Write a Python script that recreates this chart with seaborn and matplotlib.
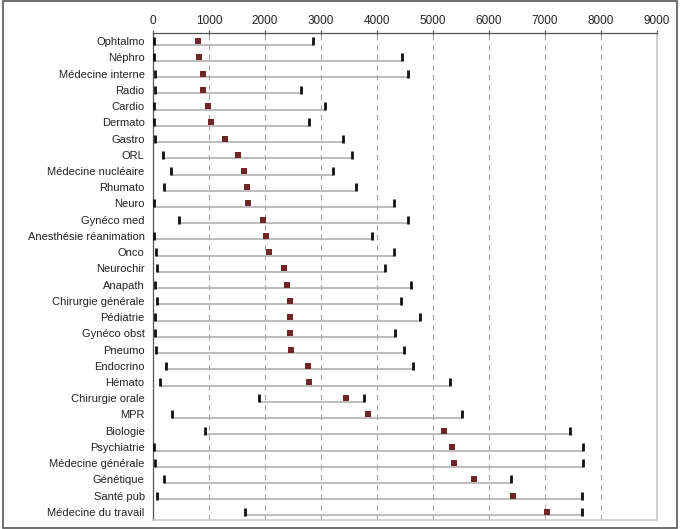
import matplotlib
matplotlib.use('Agg')
import matplotlib.pyplot as plt
import pandas as pd
import seaborn as sns
from matplotlib.ticker import MultipleLocator, FixedLocator

specialites = ['Ophtalmo', 'Néphro', 'Médecine interne', 'Radio', 'Cardio', 'Dermato',
               'Gastro', 'ORL', 'Médecine nucléaire', 'Rhumato', 'Neuro', 'Gynéco med',
               'Anesthésie réanimation', 'Onco', 'Neurochir', 'Anapath',
               'Chirurgie générale', 'Pédiatrie', 'Gynéco obst', 'Pneumo', 'Endocrino',
               'Hémato', 'Chirurgie orale', 'MPR', 'Biologie', 'Psychiatrie',
               'Médecine générale', 'Génétique', 'Santé pub', 'Médecine du travail']
rang_min = [20, 20, 40, 40, 20, 20, 30, 170, 330, 200, 20, 465, 20, 60, 70, 40, 70, 30,
            30, 60, 230, 130, 1890, 340, 920, 20, 40, 200, 80, 1640]
rang_median = [800, 830, 890, 900, 975, 1030, 1280, 1525, 1620, 1670, 1700, 1960, 2010,
               2080, 2340, 2390, 2440, 2440, 2450, 2465, 2760, 2790, 3450, 3840, 5190,
               5345, 5375, 5740, 6420, 7030]
rang_max = [2860, 4440, 4550, 2650, 3070, 2790, 3400, 3550, 3215, 3625, 4310, 4560, 3910,
            4310, 4140, 4610, 4420, 4775, 4330, 4490, 4650, 5300, 3760, 5520, 7440, 7670,
            7670, 6400, 7660, 7660]

df = pd.DataFrame({'spe': specialites, 'min': rang_min, 'med': rang_median, 'max': rang_max})
df['pos'] = range(len(df))

sns.set_style('white')
plt.rcParams['font.family'] = ['Liberation Sans', 'DejaVu Sans']

fig = plt.figure(figsize=(6.8, 5.29), dpi=100)
ax = fig.add_axes([153 / 680, 9 / 529, 504 / 680, 487 / 529])

# range lines sit a little below the markers
ax.hlines(df['pos'] + 0.22, df['min'], df['max'], color='#ababab', lw=1.1, zorder=2)
ends = pd.concat([df[['pos', 'min']].rename(columns={'min': 'v'}),
                  df[['pos', 'max']].rename(columns={'max': 'v'})])
sns.scatterplot(data=ends, x='v', y='pos', marker='|', s=30, linewidth=2,
                color='#111111', ax=ax, zorder=3)
sns.scatterplot(data=df, x='med', y='pos', marker='s', s=22, linewidth=0,
                color='#6e2626', ax=ax, zorder=4)

ax.set_xlim(0, 9000)
ax.set_ylim(len(df) - 0.5, -0.5)
ax.xaxis.tick_top()
ax.xaxis.set_major_locator(MultipleLocator(1000))
ax.set_yticks(df['pos'])
ax.set_yticklabels(df['spe'])
ax.yaxis.set_minor_locator(FixedLocator([p - 0.5 for p in df['pos']] + [len(df) - 0.5]))
ax.tick_params(axis='y', which='major', length=0, pad=6, labelsize=8, labelcolor='#222222')
ax.tick_params(axis='y', which='minor', length=4, width=0.8, color='#555555', direction='out')
ax.tick_params(axis='x', which='major', length=5, width=0.8, color='#555555',
               direction='inout', labelsize=8.5, labelcolor='#222222', pad=2)
ax.set_xlabel('')
ax.set_ylabel('')
for g in range(1000, 9000, 1000):
    ax.axvline(g, color='#a5a5a5', lw=0.8, ls=(0, (5, 4)), zorder=1)

for side in ['top', 'left']:
    ax.spines[side].set_color('#555555')
    ax.spines[side].set_linewidth(0.9)
for side in ['right', 'bottom']:
    ax.spines[side].set_color('#c8c8c8')
    ax.spines[side].set_linewidth(1.2)

# cadre autour de l'image
fig.patches.append(plt.Rectangle((0.004, 0.002), 0.992, 0.996, transform=fig.transFigure,
                                 fill=False, edgecolor='#555555', lw=1.2))

fig.savefig('out.png', dpi=100)
